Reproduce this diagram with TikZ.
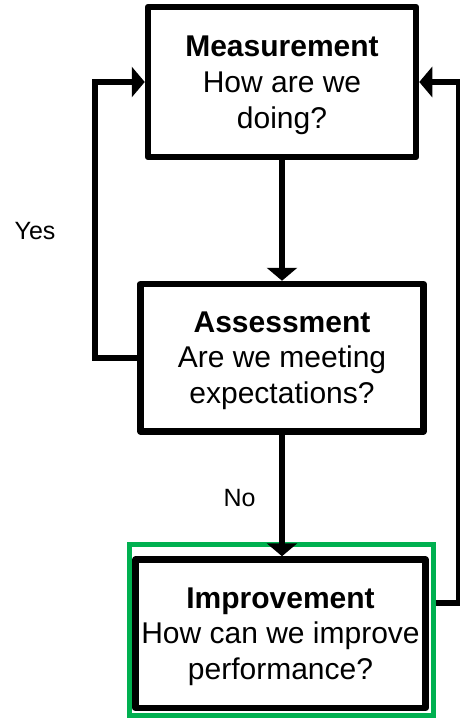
\documentclass[tikz,border=0pt]{standalone}
\usepackage{fontspec}
\setmainfont{Liberation Sans}
\usetikzlibrary{arrows.meta}

\begin{document}
\begin{tikzpicture}[x=1pt,y=-1pt,
  stagebox/.style={draw=black, line width=6.5pt, line join=round, fill=white,
    inner sep=0pt},
  stagetext/.style={align=center, inner sep=0pt, yshift=-3pt,
    font=\fontsize{30}{35.8}\selectfont},
  highlight/.style={draw=focusgreen, line width=5pt, inner sep=0pt},
  flow/.style={line width=6pt, line join=miter, -{Triangle[length=13pt,width=30pt]}},
  answer/.style={font=\fontsize{25}{30}\selectfont, inner sep=0pt}]
\definecolor{focusgreen}{HTML}{00B050}
\useasboundingbox (0,0) rectangle (459,719);

% stage boxes
\node[stagebox, minimum width=268pt, minimum height=150pt] (meas) at (282,82) {};
\node[stagebox, minimum width=283pt, minimum height=147.5pt] (assess) at (282,357.75) {};
\node[highlight, minimum width=303.5pt, minimum height=170.5pt] (green) at (281.25,629.75) {};
\node[stagebox, minimum width=290pt, minimum height=148.5pt] (imp) at (280.5,633.75) {};

% stage captions
\node[stagetext] (measT) at (meas.center) {\textbf{Measurement}\\How are we\\doing?};
\node[stagetext] (assessT) at (assess.center) {\textbf{Assessment}\\Are we meeting\\expectations?};
\node[stagetext] (impT) at (imp.center) {\textbf{Improvement}\\How can we improve\\performance?};

% feedback loops and forward flow
\coordinate (rloop) at (459,603);
\draw[flow] (meas.south) -- (assess.north);
\draw[flow] (assess.south) -- (assess.south |- imp.north);
\draw[flow] (assess.west) -- ++(-42,0) |- (meas.west);
\draw[flow] (green.east |- rloop) -- (rloop) |- (meas.east);

% decision labels
\node[answer] (yes) at (35,231) {Yes};
\node[answer] (no) at (239.5,498.5) {No};
\end{tikzpicture}
\end{document}
